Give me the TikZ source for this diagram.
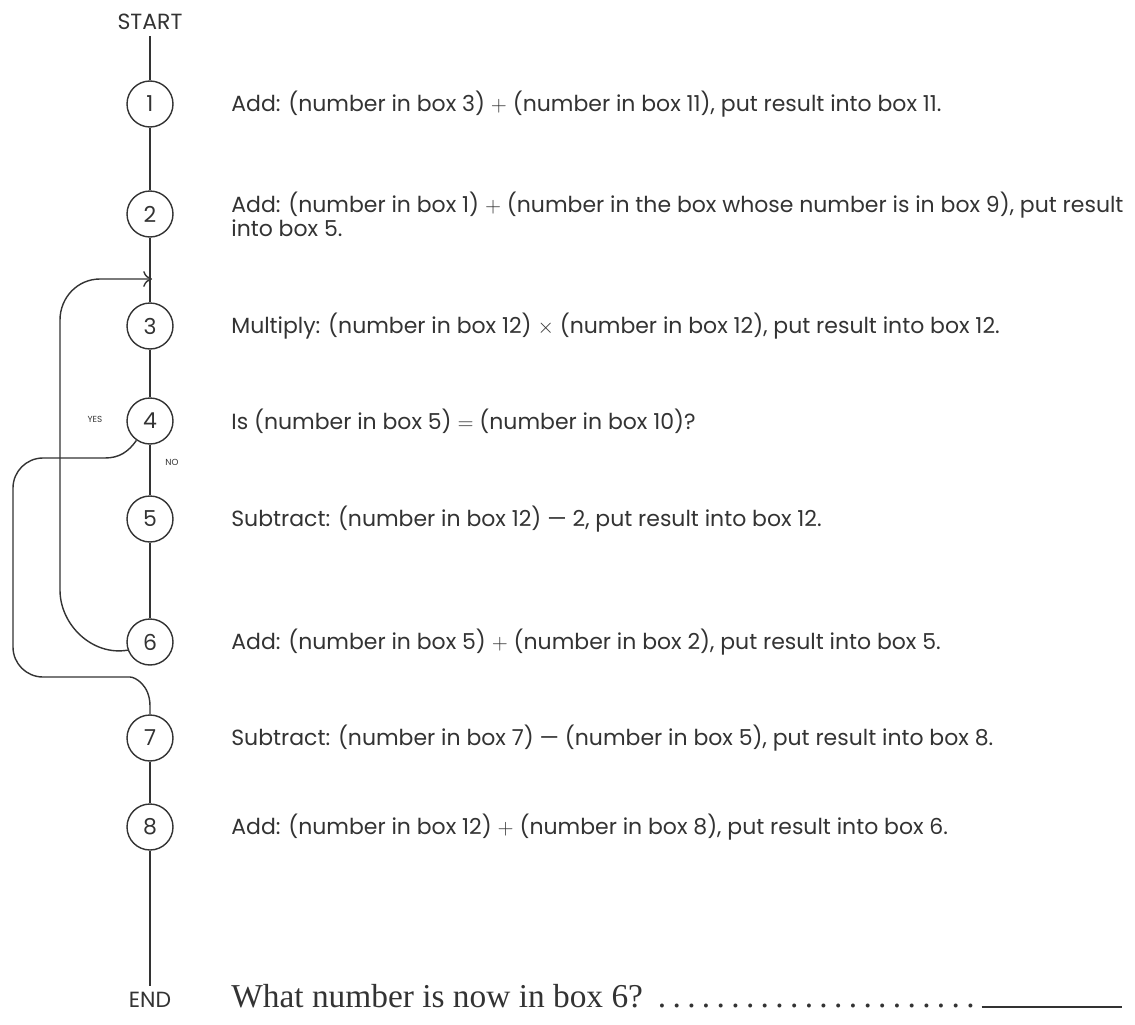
\documentclass[tikz,border=0pt]{standalone}
\usepackage{fontspec}
\setmainfont{Poppins}
\newfontfamily\questfont{Liberation Serif}
\usetikzlibrary{arrows.meta}
\tikzstyle{boxnum}=[draw,circle,minimum size=0.92cm,inner sep=0pt,line width=0.8pt]
\tikzstyle{instr}=[anchor=west,inner sep=0pt,align=left]
\tikzstyle{flow}=[line width=0.8pt]
\tikzstyle{tiny}=[font=\fontsize{5}{6}\selectfont,inner sep=0pt]

\begin{document}
\begin{tikzpicture}[x=0.02cm,y=-0.02cm,color=black!80,
    font=\fontsize{12.5}{13.6}\selectfont]
      \useasboundingbox (0,0) rectangle (1135,1024);

      \node (start) at (150,22) {START};
      \node[boxnum] (s1) at (150,104) {1};
      \node[boxnum] (s2) at (150,214) {2};
      \node[boxnum] (s3) at (150,326) {3};
      \node[boxnum] (s4) at (150,421) {4};
      \node[boxnum] (s5) at (150,519) {5};
      \node[boxnum] (s6) at (150,642) {6};
      \node[boxnum] (s7) at (150,738) {7};
      \node[boxnum] (s8) at (150,827) {8};
      \node (finish) at (150,1000) {END};

      \node[tiny] (yes) at (95,419) {YES};
      \node[tiny] (no) at (172,462) {NO};

      \node[instr] (t1) at (231,104) {Add: (number in box 3) $+$ (number in box 11), put result into box 11.};
      \node[instr] (t2) at (231,214) {Add: (number in box 1) $+$ (number in the box whose number is in box 9), put result\\into box 5.};
      \node[instr] (t3) at (231,326) {Multiply: (number in box 12) $\times$ (number in box 12), put result into box 12.};
      \node[instr] (t4) at (231,421) {Is (number in box 5) $=$ (number in box 10)?};
      \node[instr] (t5) at (231,519) {Subtract: (number in box 12) --- 2, put result into box 12.};
      \node[instr] (t6) at (231,642) {Add: (number in box 5) $+$ (number in box 2), put result into box 5.};
      \node[instr] (t7) at (231,738) {Subtract: (number in box 7) --- (number in box 5), put result into box 8.};
      \node[instr] (t8) at (231,827) {Add: (number in box 12) $+$ (number in box 8), put result into box 6.};

      \node[anchor=base west,inner sep=0pt,font=\questfont\fontsize{19}{22}\selectfont] (ask) at (231,1007)
        {What number is now in box 6?\ \makebox[6.6cm]{\dotfill}};
      \coordinate (blank) at (1122,1007);
      \coordinate (join3) at (152,279);

      \draw[flow] (start) -- (s1);
      \draw[flow] (s1) -- (s2);
      \draw[flow] (s2) -- (s3);
      \draw[flow] (s3) -- (s4);
      \draw[flow] (s4) -- (s5);
      \draw[flow] (s5) -- (s6);
      \draw[flow] (s7) -- (s8);
      \draw[flow] (s8) -- (finish);
      \draw[line width=1.4pt] (ask.base east) -- (blank);

      % back from 6 to the top of 3
      \draw[flow,-{To[length=5pt,width=9pt]}] (s6.200) to[out=190,in=-90] (60,590)
        -- (60,320) to[out=90,in=180] (100,279) -- (join3);
      % yes: from 4 down to 7
      \draw[flow] (s4.235) to[out=235,in=0] (105,458)
        [rounded corners=0.6cm] -- (13,458) -- (13,677) -- (100,677)
        [sharp corners] .. controls (135,677) and (150,685) .. (150,706) -- (s7.north);

\end{tikzpicture}
\end{document}
